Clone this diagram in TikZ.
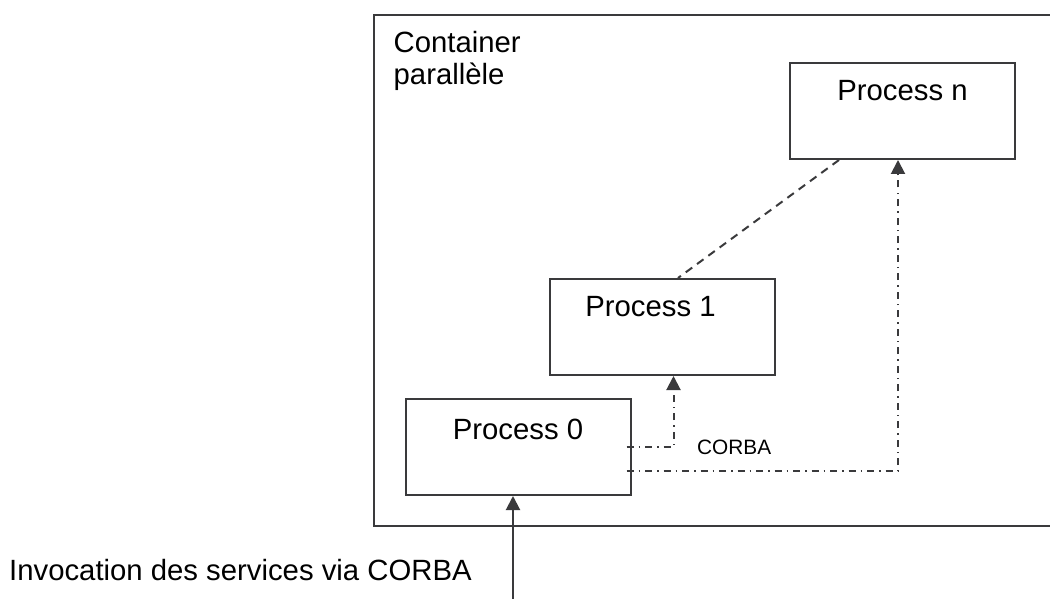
\documentclass[tikz,border=0pt]{standalone}
\usepackage{fontspec}
\setmainfont{Liberation Sans}
\usetikzlibrary{arrows.meta,calc}
\definecolor{linec}{HTML}{3A3A3C}
\tikzset{
  lin/.style={draw=linec, line width=2pt},
  pbox/.style={lin, rectangle, minimum width=225pt, minimum height=96pt, inner sep=0pt,
    font=\fontsize{29.3}{32}\selectfont, text=black},
  bigtxt/.style={inner sep=0pt, font=\fontsize{29.3}{32}\selectfont, text=black},
  smalltxt/.style={inner sep=0pt, font=\fontsize{20.8}{24}\selectfont, text=black},
  tip/.style={-{Triangle[length=14pt,width=14pt]}},
  dashline/.style={lin, dash pattern=on 8pt off 6pt},
  dotdash/.style={lin, dash pattern=on 7pt off 5pt on 1.5pt off 5pt},
}
\begin{document}
\begin{tikzpicture}[x=1pt,y=-1pt]
\useasboundingbox (0,0) rectangle (1050,599);
% container frame (its right side lies beyond the picture)
\draw[lin] (1050,15) -- (374,15) -- (374,526) -- (1050,526);
\node[bigtxt, anchor=base west] (cont1) at (393.5,53) {Container};
\node[bigtxt, anchor=base west] (cont2) at (393.5,85) {parallèle};
% processes
\node[pbox, text height=38pt, text depth=58pt] (pn) at (902.5,111) {Process n};
\node[pbox, text height=37pt, text depth=59pt] (p1) at (662.5,327) {Process 1\hspace*{24pt}};
\node[pbox, text height=40pt, text depth=56pt] (p0) at (518,447) {Process 0};
% connectors
\draw[dashline] ([xshift=-63.5pt]pn.south) -- ([xshift=15.5pt]p1.north);
\draw[dotdash, tip] ([xshift=-5pt]p0.east) -| ([xshift=11pt]p1.south);
\draw[dotdash, tip] ([xshift=-5pt,yshift=-24pt]p0.east) -| ([xshift=-4.5pt]pn.south);
\node[smalltxt, anchor=base west] (corba) at (697,454) {CORBA};
% invocation
\coordinate (inv) at (513,599);
\draw[lin, tip] (inv) -- ([xshift=-5pt]p0.south);
\node[bigtxt, anchor=base west] (invtxt) at (9,580) {Invocation des services via CORBA};
\end{tikzpicture}
\end{document}
